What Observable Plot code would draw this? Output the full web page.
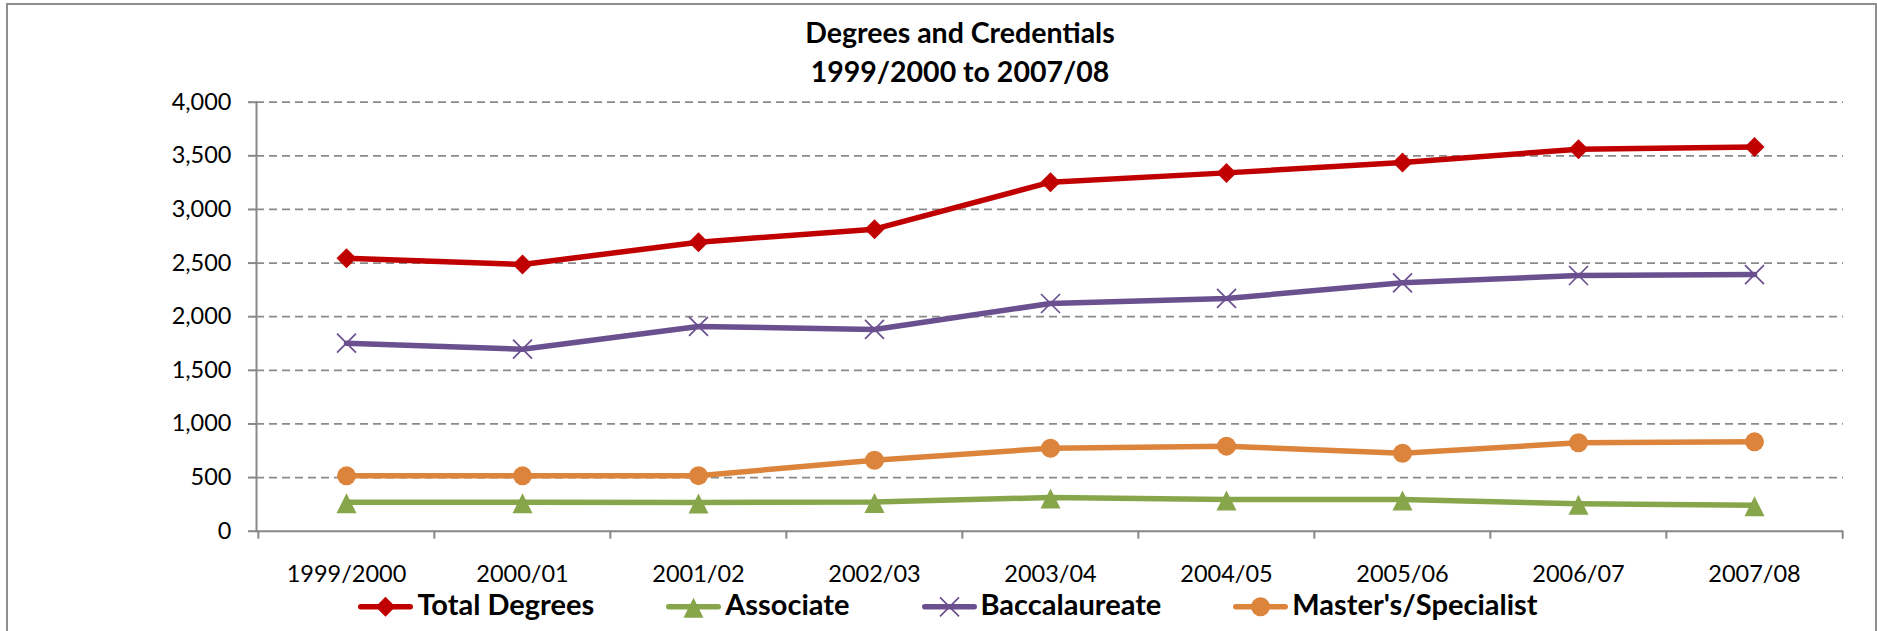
<!DOCTYPE html>
<html>
<head>
<meta charset="utf-8">
<script src="https://cdn.jsdelivr.net/npm/d3@7"></script>
<script src="https://cdn.jsdelivr.net/npm/@observablehq/plot@0.6"></script>
<style>
  html, body { margin: 0; padding: 0; background: #fff; }
  #wrap { position: relative; width: 1877px; height: 631px; overflow: hidden; font-family: Lato, "Open Sans", sans-serif; }
  #border { position: absolute; left: 6px; top: 3px; width: 1871px; height: 700px; box-sizing: border-box; border: 2px solid #8e8e8e; }
  #title { position: absolute; left: 460px; width: 1000px; top: 12.8px; text-align: center; font-weight: bold; font-size: 28.5px; line-height: 38.7px; color: #000; white-space: nowrap; }
  #chart { position: absolute; left: 0; top: 92px; }
  #legend { position: absolute; left: 247px; width: 1400px; top: 585px; height: 40px; display: flex; justify-content: center; align-items: flex-start; gap: 70px; font-weight: bold; font-size: 29px; line-height: 38px; color: #000; white-space: nowrap; }
  .item { display: flex; align-items: flex-start; flex: none; white-space: nowrap; }
  .item svg { margin-right: 2px; flex: none; }
</style>
</head>
<body>
<div id="wrap">
  <div id="border"></div>
  <div id="title"><div>Degrees and Credentials</div><div>1999/2000 to 2007/08</div></div>
  <div id="chart"></div>
  <div id="legend"></div>
</div>
<script>
// ---- data ----
const years = ["1999/2000", "2000/01", "2001/02", "2002/03", "2003/04", "2004/05", "2005/06", "2006/07", "2007/08"];
const seriesNames = ["Total Degrees", "Associate", "Baccalaureate", "Master's/Specialist"];
const totalDegrees = [2545, 2487, 2695, 2816, 3254, 3341, 3438, 3562, 3582];
const associate = [270, 270, 268, 272, 314, 296, 296, 255, 243];
const baccalaureate = [1753, 1697, 1909, 1881, 2123, 2170, 2316, 2384, 2393];
const masters = [516, 516, 518, 662, 774, 793, 727, 824, 833];
const yTicks = [0, 500, 1000, 1500, 2000, 2500, 3000, 3500, 4000];
const colors = ["#C00000", "#87A64B", "#6B5090", "#DD843C"];

const valuesBySeries = [totalDegrees, associate, baccalaureate, masters];
const long = [];
seriesNames.forEach((s, i) => years.forEach((y, j) => long.push({series: s, year: y, value: valuesBySeries[i][j]})));

// ---- symbols ----
const diamondSym = {draw(ctx, size) { const h = Math.sqrt(size / Math.PI); ctx.moveTo(0, -h); ctx.lineTo(h, 0); ctx.lineTo(0, h); ctx.lineTo(-h, 0); ctx.closePath(); }};
const triangleSym = {draw(ctx, size) { const h = Math.sqrt(size / Math.PI); ctx.moveTo(0, -0.9 * h); ctx.lineTo(h, 1.1 * h); ctx.lineTo(-h, 1.1 * h); ctx.closePath(); }};
const timesSym = {draw(ctx, size) { const h = Math.sqrt(size / Math.PI); ctx.moveTo(-h, -h); ctx.lineTo(h, h); ctx.moveTo(h, -h); ctx.lineTo(-h, h); }};
const circleSym = d3.symbolCircle;
const markerDefs = [
  {sym: diamondSym, r: 10, filled: true},
  {sym: triangleSym, r: 10, filled: true},
  {sym: timesSym, r: 9.5, filled: false},
  {sym: circleSym, r: 9.5, filled: true}
];

// ---- layout ----
const W = 1877, H = 500;
const mL = 256, mR = 34, mT = 9.7, mB = 61.3;
const step = (W - mL - mR) / years.length;
const gray = "#878787";

const dotMarks = seriesNames.map((s, i) => {
  const m = markerDefs[i];
  const data = long.filter(d => d.series === s);
  return m.filled
    ? Plot.dot(data, {x: "year", y: "value", symbol: m.sym, r: m.r, fill: colors[i], stroke: "none"})
    : Plot.dot(data, {x: "year", y: "value", symbol: m.sym, r: m.r, fill: "none", stroke: colors[i], strokeWidth: 1.7});
});

const chart = Plot.plot({
  width: W,
  height: H,
  marginLeft: mL,
  marginRight: mR,
  marginTop: mT,
  marginBottom: mB,
  style: {fontFamily: "Lato, 'Open Sans', sans-serif", fontSize: "23.5px", color: "#000", background: "transparent", overflow: "visible"},
  x: {type: "point", domain: years, padding: 0.5},
  y: {domain: [0, 4000]},
  color: {domain: seriesNames, range: colors},
  marks: [
    Plot.gridY(yTicks.filter(v => v > 0), {stroke: "#8a8a8a", strokeOpacity: 1, strokeWidth: 1.8, strokeDasharray: "8,5"}),
    Plot.axisY(yTicks, {tickSize: 8, tickPadding: 17, tickFormat: d3.format(","), stroke: gray, strokeWidth: 2, fill: "#000", fontSize: 23.5, label: null}),
    Plot.frame({anchor: "left", stroke: gray, strokeWidth: 2}),
    Plot.ruleY([0], {stroke: gray, strokeWidth: 2}),
    Plot.axisX(years, {tickSize: 8, dx: -step / 2, tickFormat: () => "", stroke: gray, strokeWidth: 2, label: null}),
    Plot.axisX([years[years.length - 1]], {tickSize: 8, dx: step / 2, tickFormat: () => "", stroke: gray, strokeWidth: 2, label: null}),
    Plot.axisX(years, {tickSize: 0, tickPadding: 34.5, fill: "#000", fontSize: 23.5, label: null}),
    Plot.line(long, {x: "year", y: "value", z: "series", stroke: "series", strokeWidth: 5.5, strokeLinejoin: "round", strokeLinecap: "round"}),
    ...dotMarks
  ]
});
document.getElementById("chart").appendChild(chart);

// ---- legend ----
const legend = d3.select("#legend");
seriesNames.forEach((s, i) => {
  const m = markerDefs[i];
  const item = legend.append("div").attr("class", "item");
  const svg = item.append("svg").attr("width", 59).attr("height", 38);
  const cy = 21.8;
  svg.append("line").attr("x1", 4.75).attr("x2", 54.25).attr("y1", cy).attr("y2", cy)
    .attr("stroke", colors[i]).attr("stroke-width", 5.5).attr("stroke-linecap", "round");
  const p = d3.path();
  m.sym.draw(p, Math.PI * m.r * m.r);
  const path = svg.append("path").attr("d", p.toString()).attr("transform", `translate(29.5,${cy})`);
  if (m.filled) path.attr("fill", colors[i]);
  else path.attr("fill", "none").attr("stroke", colors[i]).attr("stroke-width", 1.7);
  item.append("span").text(s);
});
</script>
</body>
</html>
